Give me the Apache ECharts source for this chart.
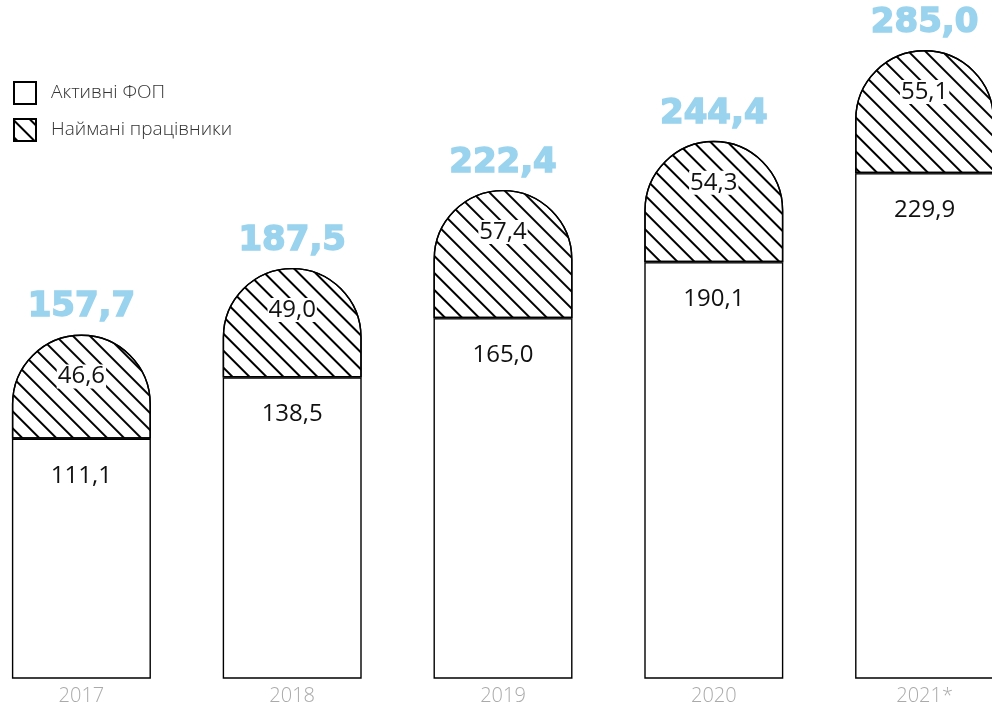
<!DOCTYPE html>
<html>
<head>
<meta charset="utf-8">
<script src="https://cdn.jsdelivr.net/npm/echarts@6/dist/echarts.min.js"></script>
<style>
html,body{margin:0;padding:0;background:#fff;overflow:hidden;width:992px;height:707px;}
#chart{position:absolute;left:-24px;top:0;width:1054px;height:707px;}
</style>
</head>
<body>
<div id="chart"></div>
<script>
const categories = ['2017', '2018', '2019', '2020', '2021*'];
const activeFop = [111.1, 138.5, 165.0, 190.1, 229.9];
const employees = [46.6, 49.0, 57.4, 54.3, 55.1];
const totals = [157.7, 187.5, 222.4, 244.4, 285.0];
const seriesNames = ['Активні ФОП', 'Наймані працівники'];

const fmt = v => v.toFixed(1).replace('.', ',');
const chart = echarts.init(document.getElementById('chart'));

chart.setOption({
  animation: false,
  backgroundColor: '#fff',
  legend: {
    data: seriesNames,
    orient: 'vertical',
    left: 37,
    top: 81,
    padding: 0,
    itemWidth: 22,
    itemHeight: 22,
    itemGap: 13,
    icon: 'rect',
    textStyle: { fontFamily: 'Open Sans', fontSize: 19, color: '#333', fontWeight: 300, padding: [0, 0, 0, 10] },
    selectedMode: false
  },
  grid: { left: 0, right: 0, top: 0, bottom: 29 },
  xAxis: {
    type: 'category',
    data: categories,
    axisLine: { show: false },
    axisTick: { show: false },
    axisLabel: { color: '#aaa', fontSize: 20, fontFamily: 'Open Sans', fontWeight: 300, margin: 8 }
  },
  yAxis: { type: 'value', min: 4, max: 307.4, show: false, splitLine: { show: false } },
  series: [
    {
      name: seriesNames[0],
      type: 'bar',
      stack: 'total',
      barWidth: 139,
      barGap: '-100%',
      data: activeFop,
      itemStyle: { color: '#fff', borderColor: '#000', borderWidth: 1.4 },
      label: {
        show: true, position: 'insideTop', distance: 25,
        formatter: p => fmt(p.value),
        fontFamily: 'Open Sans', fontSize: 24, color: '#111'
      }
    },
    {
      name: seriesNames[1],
      type: 'bar',
      stack: 'total',
      barWidth: 139,
      barGap: '-100%',
      data: employees,
      itemStyle: {
        color: '#fff', borderColor: '#000', borderWidth: 1.4,
        borderRadius: [70, 70, 0, 0],
        decal: {
          symbol: 'rect', symbolSize: 1, color: '#000', backgroundColor: 'rgba(0,0,0,0)',
          dashArrayX: [1, 0], dashArrayY: [1.2, 9.3], rotation: Math.PI / 4
        }
      },
      label: {
        show: true, position: 'insideTop', distance: 30,
        formatter: p => fmt(p.value),
        fontFamily: 'Open Sans', fontSize: 24, color: '#111',
        backgroundColor: '#fff', padding: [0, 1]
      }
    },
    {
      name: 'total',
      type: 'bar',
      barWidth: 139,
      barGap: '-100%',
      data: totals,
      silent: true,
      z: 1,
      itemStyle: { color: 'rgba(0,0,0,0)' },
      label: {
        show: true, position: 'top', distance: 10,
        formatter: p => fmt(p.value),
        fontFamily: 'DejaVu Sans', fontWeight: 'bold', fontSize: 34, color: '#9ad3ee',
        textBorderColor: '#9ad3ee', textBorderWidth: 1.5
      }
    }
  ]
});
</script>
</body>
</html>
